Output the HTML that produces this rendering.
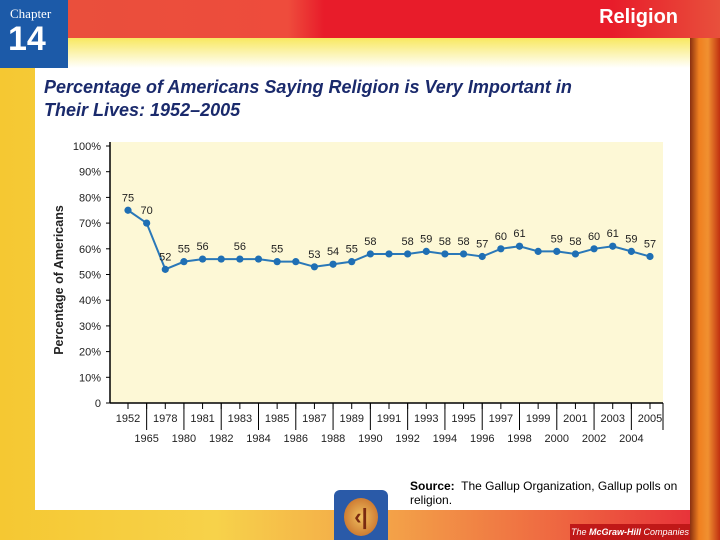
<!DOCTYPE html>
<html><head><meta charset="utf-8"><style>
body{margin:0;width:720px;height:540px;overflow:hidden;font-family:"Liberation Sans",sans-serif;position:relative;
background:linear-gradient(90deg,#f5c832 0%,#f7d24a 30%,#f3a048 55%,#ee6040 80%,#e62838 100%);}
#panel{position:absolute;left:35px;top:62px;width:655px;height:448px;background:#fff;}
#top{position:absolute;left:0;top:0;width:720px;height:38px;background:linear-gradient(90deg,#e8503c,#ee4c3c 40%,#e81c2a 45%,#e81c2a 85%,#e8503c);}
#topfade{position:absolute;left:35px;top:38px;width:655px;height:30px;background:linear-gradient(180deg,#f8e860,#fff);}
#chap{position:absolute;left:0;top:0;width:68px;height:68px;background:#1c5aa8;color:#fff;}
#rel{position:absolute;right:42px;top:6px;color:#fff;font-size:20px;font-weight:bold;}
#rstrip{position:absolute;left:690px;top:0;width:30px;height:540px;background:linear-gradient(90deg,#8a3010,#f08020 30%,#f09030 60%,#c03010);}
#title{position:absolute;left:44px;top:76px;font-size:18px;font-weight:bold;font-style:italic;color:#1a2a6c;line-height:23px;}
#src{position:absolute;left:410px;top:479px;font-size:12px;color:#000;line-height:14px;}
#mh{position:absolute;left:570px;top:524px;width:120px;height:16px;background:#c01818;color:#fff;font-size:9px;font-style:italic;text-align:center;line-height:16px;}
#back{position:absolute;left:334px;top:490px;width:54px;height:50px;background:#2a5aa8;border-radius:6px 6px 0 0;}
</style></head><body>
<div id="rstrip"></div>
<div id="panel"></div>
<div id="topfade"></div>
<div id="top"></div>
<div id="chap"><div style="font-family:'Liberation Serif',serif;font-size:13px;padding:6px 0 0 10px">Chapter</div><div style="font-size:34px;font-weight:bold;padding-left:8px;line-height:34px">14</div></div>
<div id="rel">Religion</div>
<div id="title">Percentage of Americans Saying Religion is Very Important in<br>Their Lives: 1952–2005</div>
<svg id="chart" width="720" height="540" style="position:absolute;left:0;top:0"></svg>
<div id="src"><b>Source:</b>&nbsp; The Gallup Organization, Gallup polls on<br>religion.</div>
<div id="back"><div style="margin:8px auto;width:34px;height:38px;border-radius:50%;background:radial-gradient(#f0c060,#c06020);color:#7a2a10;font-size:22px;text-align:center;line-height:38px;font-weight:bold">&lsaquo;|</div></div>
<div id="mh">The <b>McGraw-Hill</b> Companies</div>
<script>
const years=["1952","1965","1978","1980","1981","1982","1983","1984","1985","1986","1987","1988","1989","1990","1991","1992","1993","1994","1995","1996","1997","1998","1999","2000","2001","2002","2003","2004","2005"];
const values=[75,70,52,55,56,56,56,56,55,55,53,54,55,58,58,58,59,58,58,57,60,61,59,59,58,60,61,59,57];
const showLabel=[1,1,1,1,1,0,1,0,1,0,1,1,1,1,0,1,1,1,1,1,1,1,0,1,1,1,1,1,1];
const yTicks=[0,10,20,30,40,50,60,70,80,90,100];
const NS="http://www.w3.org/2000/svg",svg=document.getElementById('chart');
const L=110,R=663,T=146,B=403;
const x=i=>128+i*(650-128)/(years.length-1);
const y=v=>B-(v/100)*(B-T);
function mk(t,a,txt){const e=document.createElementNS(NS,t);for(const k in a)e.setAttribute(k,a[k]);if(txt!=null)e.textContent=txt;svg.appendChild(e);return e;}
let e=mk('rect',{x:L,y:T-4,width:R-L,height:B-T+4,fill:'#fdf8d6'});

e=mk('line',{x1:L,y1:T-4,x2:L,y2:B,stroke:'#000','stroke-width':1.5});

e=mk('line',{x1:L,y1:B,x2:R,y2:B,stroke:'#000','stroke-width':1.5});

e=mk('line',{x1:R,y1:B,x2:R,y2:430,stroke:'#000','stroke-width':1});

yTicks.forEach(v=>{
  e=mk('text',{x:101,y:y(v)+4,'text-anchor':'end','font-size':11,fill:'#222'},v===0?'0':v+'%');
  
  e=mk('line',{x1:L-4,y1:y(v),x2:L,y2:y(v),stroke:'#000'});
  
});
e=mk('text',{x:0,y:0,transform:'translate(63,280) rotate(-90)','text-anchor':'middle','font-size':12.5,'font-weight':'bold',fill:'#222'},'Percentage of Americans');

years.forEach((yr,i)=>{
  e=mk('line',{x1:x(i),y1:B,x2:x(i),y2:B+6,stroke:'#000'});
  
  const top=i%2===0;
  e=mk('text',{x:x(i),y:top?422:442,'text-anchor':'middle','font-size':11,fill:'#222'},yr);
  
  if(top&&i<years.length-1){
    e=mk('line',{x1:x(i+1),y1:B,x2:x(i+1),y2:430,stroke:'#000'});
    
  }
});
e=mk('polyline',{points:values.map((v,i)=>x(i)+','+y(v)).join(' '),fill:'none',stroke:'#2a78b8','stroke-width':2});

values.forEach((v,i)=>{
  e=mk('circle',{cx:x(i),cy:y(v),r:3.6,fill:'#1f6fb4'});
  
  if(showLabel[i]){
    e=mk('text',{x:x(i),y:y(v)-9,'text-anchor':'middle','font-size':11,fill:'#222'},String(v));
    
  }
});
</script>
</body></html>
